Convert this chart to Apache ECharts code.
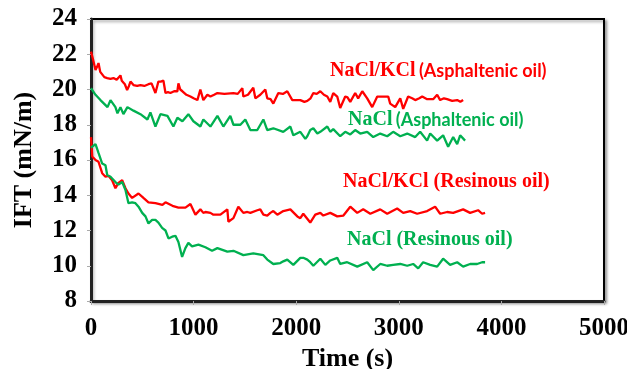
<!DOCTYPE html>
<html><head><meta charset="utf-8">
<script src="https://cdn.jsdelivr.net/npm/echarts@6/dist/echarts.min.js"></script>
<style>html,body{margin:0;padding:0;background:#fff;}#c{width:627px;height:369px;}</style>
</head><body><div id="c"></div>
<script>
// Tick labels
const xTicks = [0, 1000, 2000, 3000, 4000, 5000];
const yTicks = [8, 10, 12, 14, 16, 18, 20, 22, 24];

// NaCl/KCl (Asphaltenic oil)
const kclAsphT = [0,20,44,60,73,90,109,130,158,190,219,250,287,300,330,352,370,385,414,450,482,520,560,590,609,628,657,680,706,726,750,774,810,842,852,870,891,930,969,1000,1037,1066,1095,1134,1164,1200,1232,1300,1388,1430,1475,1485,1530,1582,1602,1650,1699,1718,1750,1777,1826,1870,1913,1962,2000,2040,2080,2108,2140,2167,2200,2235,2270,2303,2332,2361,2400,2429,2478,2500,2527,2575,2604,2644,2692,2741,2790,2850,2897,2916,2965,3014,3043,3091,3130,3160,3200,3228,3276,3335,3374,3403,3440,3471,3520,3569,3600,3627];
const kclAsphV = [22.15,21.7,21.1,21.3,21.5,21.0,20.9,20.7,20.65,20.6,20.65,20.55,20.8,20.5,20.3,19.97,20.2,20.45,20.25,20.2,20.25,20.2,20.3,20.35,20.4,19.8,20.45,20.45,20.5,19.8,19.85,19.8,19.9,19.9,20.35,20.0,19.9,19.7,19.6,19.5,19.4,20.0,19.4,19.7,19.6,19.7,19.8,19.75,19.8,19.75,20.08,19.6,19.7,20.1,19.5,19.7,20.0,19.5,19.45,19.2,19.8,19.75,19.9,19.4,19.4,19.4,19.3,19.35,19.5,19.8,19.75,19.9,19.7,19.6,19.3,19.8,19.6,18.95,19.6,19.55,19.3,19.8,19.5,19.9,19.5,19.0,19.6,19.6,19.6,19.2,19.0,19.5,18.9,19.6,19.5,19.4,19.5,19.6,19.45,19.45,19.7,19.4,19.5,19.45,19.35,19.4,19.3,19.4];

// NaCl (Asphaltenic oil)
const naAsphT = [0,44,92,161,190,238,258,287,316,355,414,482,550,579,628,677,745,803,842,891,949,998,1066,1095,1164,1232,1290,1358,1388,1456,1504,1553,1621,1680,1718,1777,1874,1943,1972,2040,2089,2108,2137,2167,2206,2235,2303,2332,2361,2429,2478,2527,2575,2624,2692,2751,2819,2887,2945,3014,3082,3160,3208,3276,3306,3374,3432,3481,3530,3569,3598,3646];
const naAsphV = [20.08,19.7,19.4,19.0,19.4,19.0,18.65,19.0,18.6,19.0,18.8,18.6,18.3,18.7,17.9,18.6,18.5,17.9,18.4,18.2,18.6,18.2,17.9,18.3,17.9,18.5,17.9,18.5,18.0,18.0,18.3,17.7,17.7,18.3,17.7,17.8,17.6,17.9,17.4,17.6,17.2,17.35,17.7,17.8,17.5,17.6,17.9,17.6,17.75,17.35,17.6,17.45,17.7,17.5,17.6,17.3,17.5,17.35,17.6,17.35,17.5,17.3,17.6,17.1,17.5,17.1,17.4,16.75,17.3,16.9,17.4,17.1];

// NaCl/KCl (Resinous oil)
const kclResT = [0,12,44,73,109,141,170,206,238,268,304,336,365,401,463,511,560,628,696,726,794,852,920,969,1018,1037,1066,1095,1115,1164,1193,1212,1261,1329,1339,1388,1436,1485,1524,1553,1621,1650,1680,1718,1748,1777,1816,1874,1943,2011,2040,2069,2137,2186,2235,2264,2332,2400,2460,2527,2595,2653,2722,2819,2887,2984,3043,3111,3179,3276,3354,3403,3471,3530,3627,3695,3773,3812,3841];
const kclResV = [17.3,16.2,16.0,15.9,15.25,15.05,15.1,14.85,14.4,14.7,14.85,14.4,14.1,13.85,14.1,13.85,13.6,13.55,13.45,13.6,13.4,13.3,13.3,13.5,12.9,12.9,13.2,13.0,13.05,13.0,12.9,12.9,12.9,13.2,12.5,12.7,13.35,13.0,13.05,13.0,13.15,13.2,12.9,12.85,13.0,13.1,12.9,13.1,13.2,12.8,12.7,12.95,12.45,12.9,13.0,12.85,13.0,12.8,12.85,13.35,13.0,13.2,12.95,13.2,12.95,13.25,13.0,13.1,12.95,13.1,13.35,12.95,13.05,13.0,13.2,13.0,13.15,12.95,13.0];

// NaCl (Resinous oil)
const naResT = [0,44,73,109,141,158,190,238,268,304,336,365,401,433,463,499,531,560,596,628,657,693,726,755,791,823,852,888,920,949,985,1047,1115,1180,1232,1329,1388,1485,1582,1680,1718,1777,1845,1874,1913,1972,2040,2069,2108,2137,2167,2235,2284,2332,2400,2429,2497,2595,2692,2751,2819,2887,2945,3014,3082,3140,3189,3237,3306,3374,3432,3500,3569,3627,3695,3763,3812,3841];
const naResV = [16.7,16.9,16.4,15.8,15.7,15.15,15.05,14.75,14.6,14.75,14.3,13.55,13.6,13.55,13.35,13.0,12.8,12.4,12.6,12.6,12.45,12.15,12.0,11.55,11.65,11.7,11.35,10.5,11.0,11.3,11.1,11.2,11.05,10.85,11.0,10.8,10.85,10.6,10.7,10.6,10.35,10.1,10.15,10.25,10.35,10.05,10.45,10.45,10.35,10.2,10.0,10.4,10.05,10.3,10.45,10.1,10.2,9.95,10.2,9.75,10.1,10.0,10.05,10.1,10.0,10.1,9.85,10.2,10.05,9.95,10.4,10.05,10.2,9.95,10.1,10.1,10.2,10.2];

const RED = '#ff0000', GREEN = '#00b050';
const pairs = (t, v) => t.map((x, i) => [x, v[i]]);

const chart = echarts.init(document.getElementById('c'), null, {renderer: 'canvas'});
const serif = '"Liberation Serif", "Times New Roman", serif';
const sans = 'Lato, "Open Sans", sans-serif';

function mkSeries(name, t, v, color) {
  return {name, type: 'line', data: pairs(t, v), showSymbol: false, symbol: 'none',
    lineStyle: {color, width: 2.3}, itemStyle: {color}, animation: false, z: 3};
}

chart.setOption({
  animation: false,
  grid: {left: 91, right: 23, top: 19, bottom: 68, show: true, borderColor: '#000', borderWidth: 2,
    outerBoundsMode: 'none', containLabel: false,
    backgroundColor: '#fff', shadowColor: 'rgba(0,0,0,0.35)', shadowBlur: 3, shadowOffsetX: 2, shadowOffsetY: 2},
  xAxis: {type: 'value', min: xTicks[0], max: xTicks[xTicks.length - 1], interval: 1000,
    name: 'Time (s)', nameLocation: 'middle', nameGap: 45,
    nameTextStyle: {fontFamily: serif, fontWeight: 'bold', fontSize: 26, color: '#000'},
    axisLine: {lineStyle: {color: '#222', width: 3}},
    axisTick: {show: true, length: 4, lineStyle: {color: '#aaa', width: 1}},
    axisLabel: {margin: 15, fontFamily: serif, fontWeight: 'bold', fontSize: 25, color: '#000',
      formatter: v => String(v)},
    splitLine: {show: false}},
  yAxis: {type: 'value', min: yTicks[0], max: yTicks[yTicks.length - 1], interval: 2,
    name: 'IFT (mN/m)', nameLocation: 'middle', nameGap: 54,
    nameTextStyle: {fontFamily: serif, fontWeight: 'bold', fontSize: 26, color: '#000'},
    axisLine: {show: true, lineStyle: {color: '#222', width: 3}},
    axisTick: {show: true, length: 4, lineStyle: {color: '#aaa', width: 1}},
    axisLabel: {margin: 14, fontFamily: serif, fontWeight: 'bold', fontSize: 25, color: '#000',
      formatter: v => String(v)},
    splitLine: {show: false}},
  series: [
    mkSeries('NaCl/KCl (Asphaltenic oil)', kclAsphT, kclAsphV, RED),
    mkSeries('NaCl (Asphaltenic oil)', naAsphT, naAsphV, GREEN),
    mkSeries('NaCl/KCl (Resinous oil)', kclResT, kclResV, RED),
    mkSeries('NaCl (Resinous oil)', naResT, naResV, GREEN)
  ],
  graphic: [
    {type: 'text', left: 330, top: 61, z: 10, style: {rich: {
      a: {fontFamily: serif, fontWeight: 'bold', fontSize: 20, fill: RED},
      b: {fontFamily: sans, fontWeight: 'bold', fontSize: 18, fill: RED}},
      text: '{a|NaCl/KCl} {b|(Asphaltenic oil)}'}},
    {type: 'text', left: 348, top: 110, z: 10, style: {rich: {
      a: {fontFamily: serif, fontWeight: 'bold', fontSize: 20, fill: GREEN},
      b: {fontFamily: sans, fontWeight: 'bold', fontSize: 18, fill: GREEN}},
      text: '{a|NaCl} {b|(Asphaltenic oil)}'}},
    {type: 'text', left: 343, top: 172, z: 10, style: {text: 'NaCl/KCl (Resinous oil)',
      fontFamily: serif, fontWeight: 'bold', fontSize: 20, fill: RED}},
    {type: 'text', left: 347, top: 230, z: 10, style: {text: 'NaCl (Resinous oil)',
      fontFamily: serif, fontWeight: 'bold', fontSize: 20, fill: GREEN}}
  ]
});
</script></body></html>
